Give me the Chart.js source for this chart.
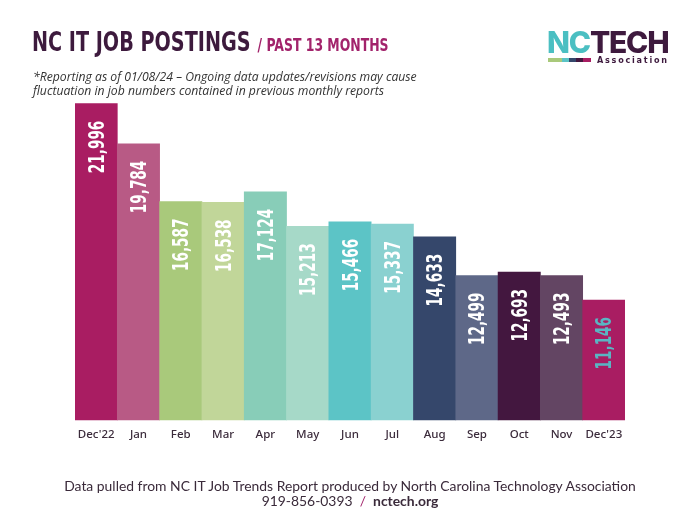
<!DOCTYPE html>
<html>
<head>
<meta charset="utf-8">
<script src="https://cdn.jsdelivr.net/npm/chart.js@4.4.1/dist/chart.umd.min.js"></script>
<style>
  html, body { margin: 0; padding: 0; background: #fff; }
  #wrap { position: relative; width: 700px; height: 524px; overflow: hidden; }
  #chartPostings { position: absolute; left: 0; top: 0; }
  .title { position: absolute; left: 32px; top: 27px; white-space: nowrap;
    font-family: "DejaVu Sans Condensed", sans-serif; font-weight: bold;
    line-height: 30px; transform-origin: 0 0; transform: scaleX(0.79); }
  .title .big { font-size: 27px; color: #3d1a3d; }
  .title .small { font-size: 17.5px; color: #a2236b; margin-left: 9px; }
  .note { position: absolute; left: 33px; top: 70px; font-family: "Open Sans", sans-serif;
    font-style: italic; font-size: 12.2px; line-height: 13.5px; color: #333; }
  .logo { position: absolute; left: 547px; top: 24px; font-family: Inter, sans-serif; font-weight: 800;
    font-size: 30px; line-height: 36px; letter-spacing: -1.2px; }
  .logo .nc { color: #4bbfc2; }
  .logo .tech { color: #3e1a3e; }
  .strip { position: absolute; top: 58px; height: 4px; }
  .assoc { position: absolute; left: 597px; top: 55px; font-family: "DejaVu Sans Condensed", sans-serif;
    font-weight: bold; font-size: 9px; letter-spacing: 1.75px; color: #3e1a3e; line-height: 10px; }
  .foot { position: absolute; left: 0; width: 700px; text-align: center; font-family: Lato, sans-serif;
    font-size: 13.9px; color: #3a2a3a; line-height: 15px; }
</style>
</head>
<body>
<div id="wrap">
  <canvas id="chartPostings" width="700" height="524"></canvas>
  <div class="title"><span class="big">NC IT JOB POSTINGS</span><span class="small">/ PAST 13 MONTHS</span></div>
  <div class="note">*Reporting as of 01/08/24 – Ongoing data updates/revisions may cause<br>fluctuation in job numbers contained in previous monthly reports</div>
  <div class="logo"><span class="nc">NC</span><span class="tech">TECH</span></div>
  <div class="strip" style="left:548px;width:14px;background:#a9c97b"></div>
  <div class="strip" style="left:562px;width:7px;background:#5cc4c6"></div>
  <div class="strip" style="left:569px;width:7px;background:#35476b"></div>
  <div class="strip" style="left:576px;width:7px;background:#43173f"></div>
  <div class="strip" style="left:583px;width:8px;background:#a91d62"></div>
  <div class="assoc">Association</div>
  <div class="foot" style="top:478px">Data pulled from NC IT Job Trends Report produced by North Carolina Technology Association</div>
  <div class="foot" style="top:493px">919-856-0393 &nbsp;<span style="color:#a2236b">/</span>&nbsp; <b>nctech.org</b></div>
</div>
<script>
const months = ["Dec'22", 'Jan', 'Feb', 'Mar', 'Apr', 'May', 'Jun', 'Jul', 'Aug', 'Sep', 'Oct', 'Nov', "Dec'23"];
const postings = [21996, 19784, 16587, 16538, 17124, 15213, 15466, 15337, 14633, 12499, 12693, 12493, 11146];

const barColors = [
  '#a91d62', '#b85a85', '#a9c97b', '#c1d699', '#88cdb8', '#a6d9c8', '#5cc4c6',
  '#8ad1d0', '#35476b', '#5e6888', '#43173f', '#634563', '#a91d62'
];
const labelColors = barColors.map((c, i) => i === barColors.length - 1 ? '#5ab5c3' : '#ffffff');

// numeros verticales dentro de cada barra
const etiquetas = {
  id: 'etiquetas',
  afterDatasetsDraw(chart) {
    const ctx = chart.ctx;
    const meta = chart.getDatasetMeta(0);
    const size = 21;
    ctx.save();
    ctx.font = 'bold ' + size + 'px "DejaVu Sans Condensed", sans-serif';
    ctx.textAlign = 'right';
    ctx.textBaseline = 'alphabetic';
    meta.data.forEach((bar, i) => {
      const texto = postings[i].toLocaleString('en-US');
      ctx.save();
      ctx.translate(bar.x, bar.y + 17);
      ctx.rotate(-Math.PI / 2);
      ctx.scale(0.72, 1);
      ctx.fillStyle = labelColors[i];
      ctx.fillText(texto, 0, size * 0.36);
      ctx.restore();
    });
    ctx.restore();
  }
};

const ctx = document.getElementById('chartPostings');
let grafico = new Chart(ctx, {
  type: 'bar',
  data: {
    labels: months,
    datasets: [{
      label: 'Job postings',
      data: postings,
      backgroundColor: barColors,
      borderWidth: 0,
      categoryPercentage: 1,
      barPercentage: 1
    }]
  },
  options: {
    responsive: false,
    animation: false,
    layout: {
      padding: { top: 100, left: 75, right: 75, bottom: 74 }
    },
    plugins: {
      legend: { display: false },
      tooltip: { enabled: false }
    },
    scales: {
      x: {
        grid: { display: false, drawTicks: false },
        border: { display: false },
        ticks: {
          color: '#3b2b3b',
          padding: 8,
          maxRotation: 0,
          autoSkip: false,
          font: { family: '"Noto Sans", sans-serif', size: 11.5, weight: '500' }
        }
      },
      y: {
        display: false,
        min: 4500,
        max: 22200
      }
    }
  },
  plugins: [etiquetas]
});
</script>
</body>
</html>
